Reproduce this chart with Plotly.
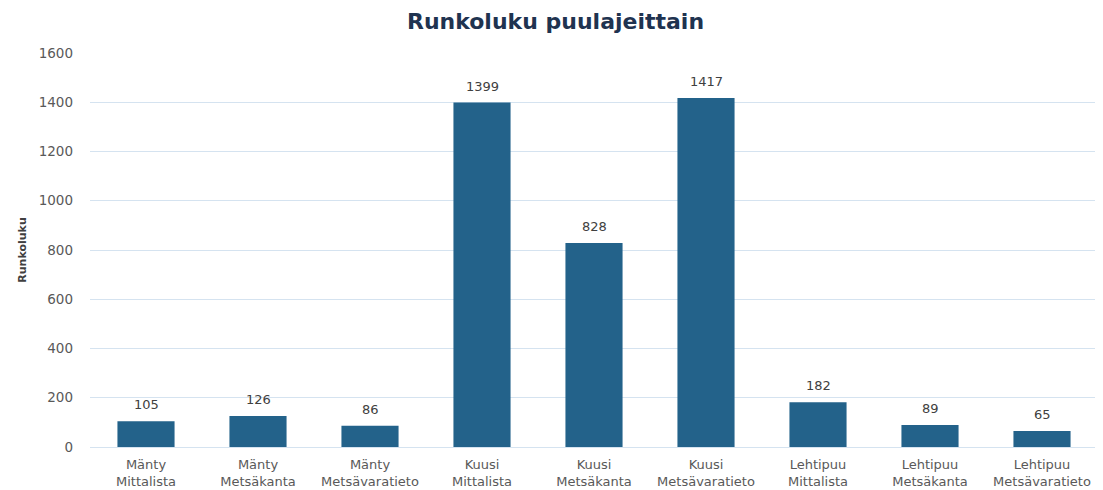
import plotly.graph_objects as go

categories = ["Mänty<br>Mittalista", "Mänty<br>Metsäkanta", "Mänty<br>Metsävaratieto",
              "Kuusi<br>Mittalista", "Kuusi<br>Metsäkanta", "Kuusi<br>Metsävaratieto",
              "Lehtipuu<br>Mittalista", "Lehtipuu<br>Metsäkanta", "Lehtipuu<br>Metsävaratieto"]
values = [105, 126, 86, 1399, 828, 1417, 182, 89, 65]
y_ticks = [0, 200, 400, 600, 800, 1000, 1200, 1400, 1600]

FONT = "DejaVu Sans"

fig = go.Figure(go.Bar(
    x=categories, y=values,
    marker=dict(color="#23628a", line=dict(width=0)),
    cliponaxis=False,
))

for c, v in zip(categories, values):
    fig.add_annotation(x=c, y=v, text=str(v), showarrow=False, yanchor="bottom", yshift=7,
                       font=dict(size=13, color="#404040", family=FONT))

fig.update_layout(
    width=1095, height=482,
    margin=dict(l=82, r=5, t=45, b=43),
    paper_bgcolor="white", plot_bgcolor="white",
    bargap=0.49,
    showlegend=False,
    title=dict(text="<b>Runkoluku puulajeittain</b>", x=0.5, xanchor="center", y=0.972, yanchor="middle",
               font=dict(size=22, color="#1f3350", family=FONT)),
    font=dict(family=FONT, size=13, color="#595959"),
)
fig.update_xaxes(showgrid=False, showline=True, linecolor="#d5e3f0", linewidth=1, automargin=False,
                 tickfont=dict(size=13, color="#595959"), ticks="", ticklabelstandoff=5)
fig.update_yaxes(range=[0, 1600], tickvals=y_ticks, showgrid=True, gridcolor="#d5e3f0",
                 zeroline=False, ticks="", ticklabelstandoff=16, automargin=False,
                 tickfont=dict(size=13.5, color="#595959"),
                 title=dict(text="<b>Runkoluku</b>", font=dict(size=11, color="#404040"), standoff=9))

fig.write_html("out.html")
